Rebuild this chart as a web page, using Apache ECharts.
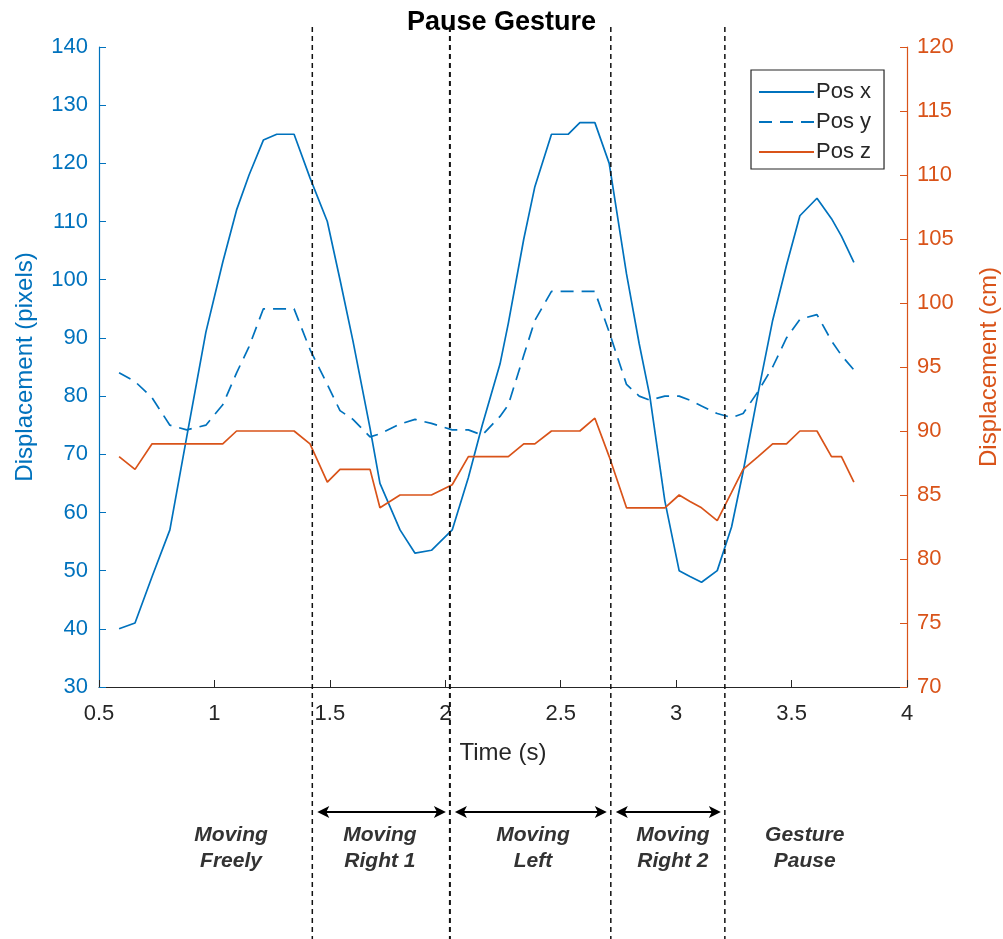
<!DOCTYPE html>
<html lang="en">
<head>
<meta charset="UTF-8">
<title>Pause Gesture</title>
<script src="https://cdn.jsdelivr.net/npm/echarts@6/dist/echarts.min.js"></script>
</head>
<body style="margin:0;background:#fff">
<div id="main" style="width:1003px;height:939px"></div>
<script type="text/javascript">
    // sample times (s) and the three tracked positions
    var times = [0.587, 0.656, 0.730, 0.807, 0.880, 0.963, 1.036, 1.096, 1.150, 1.212, 1.270, 1.345, 1.414, 1.489, 1.544, 1.600, 1.674,
        1.717, 1.804, 1.869, 1.940, 2.030, 2.100, 2.160, 2.237, 2.273, 2.340, 2.388, 2.460, 2.532, 2.583, 2.648, 2.710, 2.785,
        2.840, 2.886, 2.951, 3.013, 3.060, 3.110, 3.178, 3.240, 3.290, 3.355, 3.418, 3.478, 3.536, 3.610, 3.673, 3.716, 3.770];
    var posX = [40, 41, 49, 57, 73, 91, 103, 112, 118, 124, 125, 125, 117.5, 110, 100, 89.5, 74.5,
        65, 57, 53, 53.5, 57, 66, 75, 85.5, 92.5, 107, 116, 125, 125, 127, 127, 120, 101,
        89, 80, 62, 50, 49, 48, 50, 57.5, 67, 80.5, 93, 102.5, 111, 114, 110.5, 107.5, 103];
    var posY = [84, 82.5, 79.7, 75, 74.2, 75, 78.5, 84, 88.5, 95, 95, 95, 88, 82, 77.5, 76, 73,
        73.5, 75.2, 76, 75.3, 74.2, 74.2, 73.3, 76.5, 78.5, 87, 93, 98, 98, 98, 98, 91, 82,
        80, 79.3, 80, 80, 79.3, 78.3, 77, 76.3, 77, 80.8, 85, 90, 93.2, 94, 89.5, 87, 84.5];
    var posZ = [88, 87, 89, 89, 89, 89, 89, 90, 90, 90, 90, 90, 89, 86, 87, 87, 87,
        84, 85, 85, 85, 85.8, 88, 88, 88, 88, 89, 89, 90, 90, 90, 91, 88, 84,
        84, 84, 84, 85, 84.5, 84, 83, 85.2, 87, 88, 89, 89, 90, 90, 88, 88, 86];

    // phase boundaries (s) and phase labels
    var phaseBounds = [1.424, 2.020, 2.717, 3.211];
    var phaseNames = ['Moving\nFreely', 'Moving\nRight 1', 'Moving\nLeft', 'Moving\nRight 2', 'Gesture\nPause'];
    var phaseCenters = [1.072, 1.717, 2.38, 2.986, 3.557];

    var BLUE = '#0072BD', ORANGE = '#D95319', DARK = '#262626';
    var FONT = '"Liberation Sans", Arial, sans-serif';

    function pairs(vals) {
        return times.map(function (t, i) { return [t, vals[i]]; });
    }

    var myChart = echarts.init(document.getElementById('main'));

    var option = {
        animation: false,
        backgroundColor: '#fff',
        textStyle: {fontFamily: FONT},
        title: {
            text: 'Pause Gesture',
            left: 'center',
            top: 4,
            textStyle: {fontSize: 27, fontWeight: 'bold', color: '#000', fontFamily: FONT}
        },
        legend: {
            orient: 'vertical',
            left: 751,
            top: 70,
            padding: [11, 13, 6, 7],
            itemGap: 8,
            itemWidth: 55,
            itemHeight: 14,
            borderColor: DARK,
            borderWidth: 1.2,
            backgroundColor: '#fff',
            itemStyle: {opacity: 0},
            textStyle: {fontSize: 22, color: DARK, fontFamily: FONT, padding: [0, 0, 0, -3]},
            data: ['Pos x', 'Pos y', 'Pos z']
        },
        grid: {left: 99, right: 96, top: 47, bottom: 252, outerBoundsMode: 'none'},
        xAxis: {
            type: 'value',
            min: 0.5,
            max: 4,
            interval: 0.5,
            name: 'Time (s)',
            nameLocation: 'middle',
            nameGap: 54,
            nameTextStyle: {fontSize: 24, color: DARK, fontFamily: FONT},
            axisLine: {lineStyle: {color: DARK, width: 1.2}},
            axisTick: {inside: true, length: 7, lineStyle: {color: DARK}},
            axisLabel: {fontSize: 22, color: DARK, margin: 16, showMinLabel: true, showMaxLabel: true},
            splitLine: {show: false}
        },
        yAxis: [{
            type: 'value',
            min: 30,
            max: 140,
            interval: 10,
            position: 'left',
            name: 'Displacement (pixels)',
            nameLocation: 'middle',
            nameGap: 62,
            nameTextStyle: {fontSize: 24, color: BLUE, fontFamily: FONT},
            axisLine: {show: true, lineStyle: {color: BLUE, width: 1.2}},
            axisTick: {show: true, inside: true, length: 7, lineStyle: {color: BLUE}},
            axisLabel: {fontSize: 22, color: BLUE, margin: 11, showMinLabel: true, showMaxLabel: true},
            splitLine: {show: false}
        }, {
            type: 'value',
            min: 70,
            max: 120,
            interval: 5,
            position: 'right',
            name: 'Displacement (cm)',
            nameLocation: 'middle',
            nameGap: 70,
            nameTextStyle: {fontSize: 24, color: ORANGE, fontFamily: FONT},
            axisLine: {show: true, lineStyle: {color: ORANGE, width: 1.2}},
            axisTick: {show: true, inside: true, length: 7, lineStyle: {color: ORANGE}},
            axisLabel: {fontSize: 22, color: ORANGE, margin: 10, showMinLabel: true, showMaxLabel: true},
            splitLine: {show: false}
        }],
        series: [{
            name: 'Pos x',
            type: 'line',
            data: pairs(posX),
            symbol: 'none',
            color: BLUE,
            lineStyle: {color: BLUE, width: 1.7}
        }, {
            name: 'Pos y',
            type: 'line',
            data: pairs(posY),
            symbol: 'none',
            color: BLUE,
            lineStyle: {color: BLUE, width: 1.7, type: [13, 8]}
        }, {
            name: 'Pos z',
            type: 'line',
            yAxisIndex: 1,
            data: pairs(posZ),
            symbol: 'none',
            color: ORANGE,
            lineStyle: {color: ORANGE, width: 1.7}
        }]
    };
    myChart.setOption(option);

    // separators, arrows and phase labels below the axis
    function px(t) {
        return myChart.convertToPixel({xAxisIndex: 0}, t);
    }

    function arrow(x1, x2, y) {
        var h = 12, w = 6;
        return {
            type: 'group',
            children: [{
                type: 'line',
                shape: {x1: x1 + 4, y1: y, x2: x2 - 4, y2: y},
                style: {stroke: '#000', lineWidth: 2}
            }, {
                type: 'polygon',
                shape: {points: [[x1, y], [x1 + h, y - w], [x1 + h - 3, y], [x1 + h, y + w]]},
                style: {fill: '#000'}
            }, {
                type: 'polygon',
                shape: {points: [[x2, y], [x2 - h, y - w], [x2 - h + 3, y], [x2 - h, y + w]]},
                style: {fill: '#000'}
            }]
        };
    }

    var g = [];
    var bx = phaseBounds.map(px);
    bx.forEach(function (x, i) {
        g.push({
            type: 'line',
            z: 10,
            shape: {x1: x, y1: 27, x2: x, y2: 939},
            style: {stroke: '#111', lineWidth: i === 1 ? 2 : 1.5, lineDash: [5, 4]}
        });
    });
    for (var i = 0; i < bx.length - 1; i++) {
        g.push(arrow(bx[i] + 5, bx[i + 1] - 4, 812));
    }
    phaseCenters.forEach(function (t, i) {
        g.push({
            type: 'text',
            x: px(t),
            y: 822,
            style: {
                text: phaseNames[i],
                align: 'center',
                fontFamily: FONT,
                fontSize: 21,
                fontStyle: 'italic',
                fontWeight: 'bold',
                lineHeight: 26,
                fill: '#333'
            }
        });
    });
    myChart.setOption({graphic: g});
</script>
</body>
</html>
